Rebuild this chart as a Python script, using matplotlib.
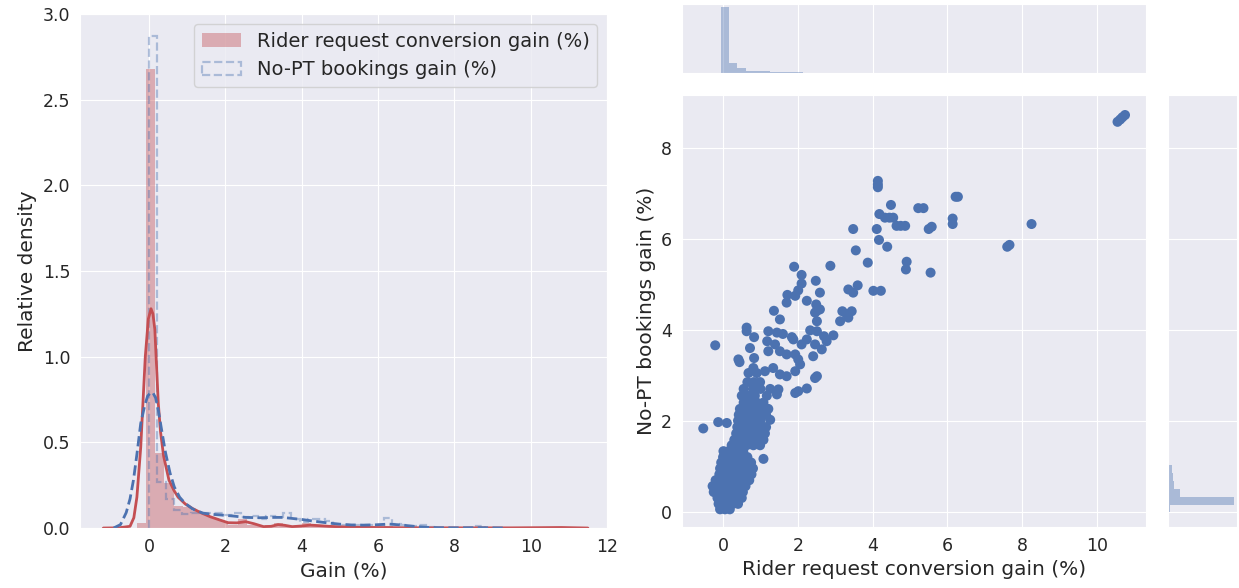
import numpy as np
import matplotlib
matplotlib.use("Agg")
import matplotlib.pyplot as plt
import matplotlib.patches as mpatches
import seaborn as sns

sns.set_style("darkgrid")
plt.rcParams['font.family'] = ['DejaVu Sans']

RED = "#C44E52"
BLUE = "#4C72B0"

# --- left panel: histograms (density) ---
rider_hist_start, rider_hist_width = -0.32, 0.24
rider_hist = [0.03, 2.68, 0.44, 0.26, 0.13, 0.12, 0.10, 0.085, 0.06, 0.04,
              0.015, 0.05, 0.02, 0.01, 0.015, 0.03, 0.01, 0.01, 0.03, 0.015,
              0.01, 0.005, 0.005, 0.005, 0.005, 0.005, 0.005, 0.01, 0.0, 0.0,
              0.0, 0.0, 0.005, 0.0, 0.0, 0.003, 0.0, 0.0, 0.0, 0.0,
              0.0, 0.0, 0.0, 0.0, 0.005, 0.005]

nopt_hist_start, nopt_hist_width = -0.01, 0.22
nopt_hist = [2.87, 0.27, 0.17, 0.105, 0.08, 0.085, 0.09, 0.085, 0.09, 0.075,
             0.085, 0.065, 0.07, 0.055, 0.07, 0.065, 0.09, 0.05, 0.035, 0.05,
             0.055, 0.04, 0.025, 0.02, 0.015, 0.02, 0.015, 0.02, 0.06, 0.025,
             0.02, 0.01, 0.015, 0.005, 0.0, 0.0, 0.0, 0.0, 0.0, 0.01]

# --- left panel: kde curves ---
rider_kde_x = [-1.2, -0.8, -0.5, -0.4, -0.32, -0.22, -0.1, -0.02, 0.05, 0.1,
               0.15, 0.24, 0.3, 0.38, 0.52, 0.65, 0.76, 0.95, 1.13, 1.35,
               1.6, 1.85, 2.07, 2.3, 2.53, 2.75, 3.0, 3.2, 3.38, 3.55,
               3.75, 4.0, 4.22, 4.45, 4.7, 5.0, 5.5, 6.0, 6.5, 7.5,
               8.5, 9.5, 10.2, 10.8, 11.5]
rider_kde_y = [0.0, 0.001, 0.01, 0.06, 0.18, 0.47, 1.0, 1.22, 1.28, 1.25,
               1.16, 0.73, 0.56, 0.42, 0.28, 0.22, 0.18, 0.14, 0.115, 0.09,
               0.066, 0.047, 0.031, 0.03, 0.037, 0.025, 0.008, 0.01, 0.02, 0.016,
               0.008, 0.012, 0.017, 0.014, 0.01, 0.007, 0.004, 0.003, 0.002, 0.001,
               0.001, 0.001, 0.002, 0.003, 0.0]

nopt_kde_x = [-0.93, -0.75, -0.6, -0.5, -0.41, -0.32, -0.22, -0.12, -0.04, 0.04,
              0.1, 0.17, 0.24, 0.33, 0.43, 0.55, 0.66, 0.8, 0.94, 1.15,
              1.41, 1.65, 1.88, 2.2, 2.53, 2.9, 3.28, 3.5, 3.75, 4.0,
              4.22, 4.6, 4.97, 5.3, 5.62, 5.95, 6.28, 6.6, 7.02, 7.3,
              7.59, 8.0, 8.7, 9.3]
nopt_kde_y = [0.0, 0.02, 0.09, 0.17, 0.28, 0.43, 0.61, 0.71, 0.77, 0.79,
              0.79, 0.76, 0.69, 0.57, 0.44, 0.32, 0.24, 0.18, 0.145, 0.11,
              0.087, 0.08, 0.076, 0.07, 0.062, 0.06, 0.062, 0.062, 0.056, 0.05,
              0.043, 0.032, 0.023, 0.018, 0.017, 0.019, 0.023, 0.018, 0.008, 0.004,
              0.002, 0.001, 0.002, 0.0]

# --- right panel: scatter points (rider gain, no-PT gain) ---
scatter_pts = [
    # dense cluster near zero
    (-0.08, 0.05), (0.05, 0.05), (0.18, 0.05),
    (-0.12, 0.17), (0.0, 0.17), (0.13, 0.17), (0.26, 0.17), (0.4, 0.17),
    (-0.15, 0.3), (-0.02, 0.3), (0.11, 0.3), (0.24, 0.3), (0.37, 0.3), (0.5, 0.3),
    (-0.25, 0.43), (-0.12, 0.43), (0.01, 0.43), (0.14, 0.43), (0.27, 0.43), (0.4, 0.43), (0.53, 0.43),
    (-0.28, 0.56), (-0.15, 0.56), (-0.02, 0.56), (0.11, 0.56), (0.24, 0.56), (0.37, 0.56), (0.5, 0.56), (0.6, 0.56),
    (-0.2, 0.69), (-0.07, 0.69), (0.06, 0.69), (0.19, 0.69), (0.32, 0.69), (0.45, 0.69), (0.58, 0.69), (0.7, 0.69),
    (-0.1, 0.82), (0.03, 0.82), (0.16, 0.82), (0.29, 0.82), (0.42, 0.82), (0.55, 0.82), (0.68, 0.82), (0.76, 0.82),
    (-0.08, 0.95), (0.05, 0.95), (0.18, 0.95), (0.31, 0.95), (0.44, 0.95), (0.57, 0.95), (0.7, 0.95), (0.8, 0.95),
    (-0.05, 1.08), (0.08, 1.08), (0.21, 1.08), (0.34, 1.08), (0.47, 1.08), (0.6, 1.08), (0.75, 1.08),
    (0.0, 1.2), (0.13, 1.2), (0.26, 1.2), (0.39, 1.2), (0.52, 1.2), (0.65, 1.2),
    (0.01, 1.33), (0.15, 1.33), (0.28, 1.33), (0.41, 1.33), (0.54, 1.33),
    (0.23, 1.46), (0.36, 1.46), (0.5, 1.46), (0.63, 1.46), (0.81, 1.46), (0.99, 1.46),
    (0.3, 1.58), (0.45, 1.58), (0.6, 1.58), (0.75, 1.58), (0.9, 1.58), (1.08, 1.58),
    (0.35, 1.72), (0.5, 1.72), (0.65, 1.72), (0.8, 1.72), (0.95, 1.72), (1.12, 1.72),
    (0.38, 1.86), (0.52, 1.86), (0.68, 1.86), (0.85, 1.86), (1.0, 1.86), (1.15, 1.86),
    (0.4, 2.0), (0.55, 2.0), (0.7, 2.0), (0.85, 2.0), (1.0, 2.0),
    (0.42, 2.13), (0.6, 2.13), (0.78, 2.13), (0.95, 2.13), (1.15, 2.13),
    (0.45, 2.26), (0.63, 2.26), (0.8, 2.26), (1.0, 2.26), (1.21, 2.26),
    (0.55, 2.4), (0.72, 2.4), (0.9, 2.4), (1.08, 2.4),
    (0.5, 2.55), (0.68, 2.55), (0.85, 2.55), (1.17, 2.55),
    (0.55, 2.7), (0.8, 2.7), (1.0, 2.7), (1.26, 2.7),
    (0.65, 2.85), (0.82, 2.85), (0.99, 2.85),
    # sparser points
    (-0.53, 1.83), (-0.21, 3.66), (-0.13, 1.97), (0.1, 1.95), (0.44, 3.29), (0.41, 3.35),
    (0.63, 4.05), (0.63, 3.97), (0.83, 3.84), (0.72, 3.6), (0.83, 3.38), (0.81, 3.16),
    (0.68, 3.05), (0.9, 3.05), (1.12, 3.09), (1.34, 3.16), (1.52, 3.02), (1.7, 2.98), (1.93, 3.09),
    (1.21, 3.97), (1.44, 3.94), (1.18, 3.75), (1.39, 3.68), (1.21, 3.53), (1.52, 3.53), (1.7, 3.46),
    (1.6, 3.91), (1.84, 3.84), (1.88, 3.79), (2.1, 3.68), (2.24, 3.79), (1.93, 3.46), (2.01, 3.35),
    (2.06, 3.24), (2.33, 3.99), (2.51, 3.97), (2.46, 3.68), (2.64, 3.57), (2.41, 3.42), (2.77, 3.75),
    (2.7, 3.86), (2.95, 3.88), (2.46, 2.94), (2.51, 2.98), (2.24, 2.71), (1.93, 2.61), (2.01, 2.65),
    (1.44, 2.58), (1.48, 2.69), (1.08, 1.16), (1.26, 2.02),
    (1.36, 4.42), (1.52, 4.23), (1.7, 4.6), (1.72, 4.77), (1.93, 4.75), (2.01, 4.87), (2.1, 5.02),
    (2.1, 5.21), (1.9, 5.39), (2.24, 4.64), (2.49, 4.56), (2.51, 4.42), (2.59, 4.45), (2.46, 4.38),
    (2.51, 4.19), (2.48, 5.08), (2.59, 4.82),
    (3.19, 4.41), (3.3, 4.35), (3.44, 4.41), (3.35, 4.27), (3.13, 4.19), (3.35, 4.89), (3.6, 4.98),
    (3.48, 4.82), (4.02, 4.86), (4.22, 4.86), (2.87, 5.41), (3.87, 5.48), (3.55, 5.75), (3.48, 6.22),
    (4.11, 6.22), (4.17, 5.98), (4.39, 5.83), (4.91, 5.5), (4.89, 5.33), (5.55, 5.26),
    (4.18, 6.55), (4.33, 6.47), (4.45, 6.47), (4.55, 6.47), (4.64, 6.29), (4.75, 6.29), (4.87, 6.29),
    (4.49, 6.75), (5.22, 6.68), (5.36, 6.68), (5.5, 6.22), (5.58, 6.27), (6.14, 6.45), (6.14, 6.33),
    (6.22, 6.93), (6.28, 6.93), (4.14, 7.28), (4.14, 7.2), (4.14, 7.14), (7.6, 5.83), (7.66, 5.87),
    (8.25, 6.33), (10.55, 8.58), (10.62, 8.63), (10.68, 8.68), (10.75, 8.73),
]

# --- marginal histograms (counts) ---
top_marg_start, top_marg_width = -0.06, 0.22
top_marg = [1000, 152, 76, 36, 36, 36, 16, 16, 8, 8, 6, 6, 5, 5, 4, 4, 4, 3, 3, 3,
            3, 2, 2, 2, 2, 2, 1, 1, 1, 1, 1, 1, 1, 1, 1, 1, 0, 1, 0, 0,
            0, 0, 0, 0, 0, 0, 0, 0, 1, 1]
right_marg_start, right_marg_width = -0.02, 0.175
right_marg = [30, 1000, 190, 85, 80, 55, 14, 12, 10, 10, 8, 8, 8, 6, 6, 6, 5, 5, 5, 5,
              4, 4, 3, 3, 3, 2, 2, 2, 2, 2, 1, 1, 1, 1, 1, 1, 1, 0, 1, 0,
              0, 0, 0, 0, 0, 0, 0, 0, 0, 1]

rider_label = "Rider request conversion gain (%)"
nopt_label = "No-PT bookings gain (%)"

TICK_FS = 12.5
LABEL_FS = 14.5

fig = plt.figure(figsize=(12.39, 5.88), dpi=100)

# ---------------- left: distributions ----------------
ax = fig.add_axes([0.0646, 0.102, 0.4253, 0.8741])
r_edges = rider_hist_start + rider_hist_width * np.arange(len(rider_hist) + 1)
n_edges = nopt_hist_start + nopt_hist_width * np.arange(len(nopt_hist) + 1)
ax.stairs(rider_hist, r_edges, fill=True, color=RED, alpha=0.4, lw=0)
ax.stairs(nopt_hist, n_edges, fill=False, color=BLUE, alpha=0.4, lw=1.6, linestyle="--")
ax.plot(rider_kde_x, rider_kde_y, color=RED, lw=2)
ax.plot(nopt_kde_x, nopt_kde_y, color=BLUE, lw=2, linestyle="--")
ax.set_xlim(-1.81, 12.0)
ax.set_ylim(0, 3.0)
ax.set_xticks(np.arange(0, 13, 2))
ax.set_yticks(np.arange(0, 3.01, 0.5))
ax.tick_params(labelsize=TICK_FS)
ax.set_xlabel("Gain (%)", fontsize=LABEL_FS)
ax.set_ylabel("Relative density", fontsize=LABEL_FS)

handles = [
    mpatches.Patch(facecolor=RED, alpha=0.4, edgecolor="none", label=rider_label),
    mpatches.Patch(facecolor="none", edgecolor=BLUE, alpha=0.4, lw=1.6,
                   linestyle="--", label=nopt_label),
]
ax.legend(handles=handles, loc="upper right", fontsize=14, frameon=True)

# ---------------- right: joint plot ----------------
pts = np.array(scatter_pts)
ax_joint = fig.add_axes([0.5504, 0.1037, 0.3745, 0.7347])
ax_top = fig.add_axes([0.5504, 0.8759, 0.3745, 0.1173], sharex=ax_joint)
ax_right = fig.add_axes([0.9427, 0.1037, 0.0557, 0.7347], sharey=ax_joint)

ax_joint.scatter(pts[:, 0], pts[:, 1], s=52, color=BLUE, edgecolors="none")
ax_joint.set_xlim(-1.1, 11.31)
ax_joint.set_ylim(-0.34, 9.17)
ax_joint.set_xticks(np.arange(0, 11, 2))
ax_joint.set_yticks(np.arange(0, 9, 2))
ax_joint.tick_params(labelsize=TICK_FS)
ax_joint.set_xlabel(rider_label, fontsize=LABEL_FS)
ax_joint.set_ylabel(nopt_label, fontsize=LABEL_FS)

t_edges = top_marg_start + top_marg_width * np.arange(len(top_marg))
ax_top.bar(t_edges, top_marg, width=top_marg_width, align="edge", color=BLUE, alpha=0.4, lw=0)
ax_top.yaxis.grid(False)
ax_top.tick_params(labelbottom=False, labelleft=False, length=0)

rt_edges = right_marg_start + right_marg_width * np.arange(len(right_marg))
ax_right.barh(rt_edges, right_marg, height=right_marg_width, align="edge", color=BLUE, alpha=0.4, lw=0)
ax_right.xaxis.grid(False)
ax_right.tick_params(labelbottom=False, labelleft=False, length=0)

fig.savefig("out.png", dpi=100)
